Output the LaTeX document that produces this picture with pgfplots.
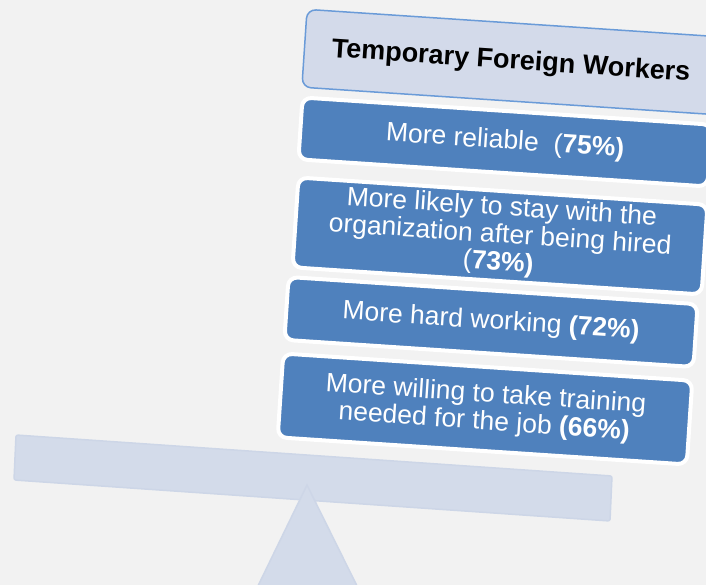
\documentclass[border=0pt]{standalone}
\usepackage{pgfplots}
\pgfplotsset{compat=1.18}
\usepackage{fontspec}
\setmainfont{Liberation Sans}
\definecolor{bg}{HTML}{F2F2F2}
\definecolor{boxblue}{HTML}{4F81BD}
\definecolor{titlefill}{HTML}{D3DAEA}
\definecolor{titleedge}{HTML}{6A9BD8}
\definecolor{beam}{HTML}{D3DBEA}
\definecolor{beamedge}{HTML}{CDD6E7}
\tikzset{mybox/.style={rectangle, rounded corners=9pt, fill=boxblue, draw=white,
  line width=4pt, text=white, align=center, inner sep=0pt, minimum width=410pt,
  rotate=-3.8, anchor=center, font=\fontsize{26.5}{27.5}\selectfont}}
\begin{document}
\begin{tikzpicture}
\useasboundingbox (0,0) rectangle (706pt,585pt);
\fill[bg] (0,0) rectangle (706pt,585pt);
\clip (0,0) rectangle (706pt,585pt);
\begin{axis}[at={(0pt,0pt)}, anchor=south west, scale only axis,
  width=706pt, height=585pt, xmin=0, xmax=706, ymin=0, ymax=585,
  y dir=reverse, hide axis, clip=false,
  /pgf/number format/assume math mode=true]
% seesaw beam and fulcrum
\addplot[fill=beam, draw=beamedge, line width=1.5pt, rounded corners=2pt]
  coordinates {(16,435) (612,476) (610,521) (14,480)} -- cycle;
\addplot[fill=beam, draw=beamedge, line width=1.5pt]
  coordinates {(307,485) (360,592) (255,592)} -- cycle;
% title box
\node[mybox, fill=titlefill, draw=titleedge, line width=1.5pt, text=black,
  minimum height=78pt, minimum width=414pt, font=\bfseries\fontsize{27}{30}\selectfont]
  at (axis cs:511,62) {Temporary Foreign Workers};
% value boxes
\addplot[draw=none, mark=none, point meta=explicit,
  nodes near coords={More reliable\ \ (\textbf{\pgfmathprintnumber{\pgfplotspointmeta}\%)}},
  every node near coord/.append style={mybox, minimum height=62pt, anchor=center}]
  coordinates {(505,142) [75]};
\addplot[draw=none, mark=none, point meta=explicit,
  nodes near coords={More likely to stay with the\\organization after being hired\\(\textbf{\pgfmathprintnumber{\pgfplotspointmeta}\%)}},
  every node near coord/.append style={mybox, minimum height=90pt, anchor=center}]
  coordinates {(500,236) [73]};
\addplot[draw=none, mark=none, point meta=explicit,
  nodes near coords={More hard working \textbf{(\pgfmathprintnumber{\pgfplotspointmeta}\%)}},
  every node near coord/.append style={mybox, minimum height=63pt, anchor=center}]
  coordinates {(491,322) [72]};
\addplot[draw=none, mark=none, point meta=explicit,
  nodes near coords={More willing to take training\\needed for the job \textbf{(\pgfmathprintnumber{\pgfplotspointmeta}\%)}},
  every node near coord/.append style={mybox, minimum height=84pt, anchor=center}]
  coordinates {(485,409) [66]};
\end{axis}
\end{tikzpicture}
\end{document}
